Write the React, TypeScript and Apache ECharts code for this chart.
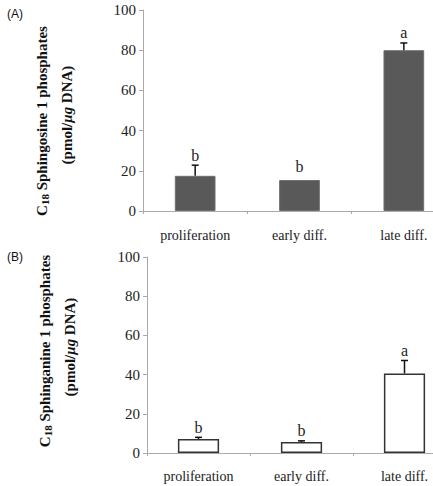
import React, { useEffect, useRef } from "react";
import * as echarts from "echarts";

const categories = ["proliferation", "early diff.", "late diff."];
const yTicks = [0, 20, 40, 60, 80, 100];

// Panel A: C18 sphingosine 1 phosphates
const s1pMean = [17.5, 15.4, 80.0];
const s1pSd = [5.3, 0, 3.6];
const s1pLetters = ["b", "b", "a"];

// Panel B: C18 sphinganine 1 phosphates
const sa1pMean = [7.1, 5.6, 40.6];
const sa1pSd = [0.9, 0.6, 6.6];
const sa1pLetters = ["b", "b", "a"];

const SERIF = '"Liberation Serif", "Times New Roman", serif';
const SANS = '"Liberation Sans", Arial, sans-serif';

function errSeries(idx: number, means: number[], sds: number[], letters: string[]) {
  return {
    type: "custom",
    xAxisIndex: idx,
    yAxisIndex: idx,
    z: 5,
    itemStyle: { color: "#222" },
    data: means.map((m, i) => [i, m, sds[i]]),
    renderItem: (params: any, api: any) => {
      const i = params.dataIndex;
      const x = api.value(0);
      const mean = api.value(1);
      const sd = api.value(2);
      const base = api.coord([x, mean]);
      const top = api.coord([x, mean + sd]);
      const children: any[] = [];
      if (sd > 0) {
        children.push({
          type: "line",
          shape: { x1: base[0], y1: base[1], x2: top[0], y2: top[1] },
          style: { stroke: "#111", lineWidth: 1.5 },
        });
        children.push({
          type: "line",
          shape: { x1: top[0] - 3.5, y1: top[1], x2: top[0] + 3.5, y2: top[1] },
          style: { stroke: "#111", lineWidth: 1.5 },
        });
      }
      children.push({
        type: "text",
        style: {
          text: letters[i],
          x: top[0],
          y: top[1] - (sd > 0 ? 10 : 14),
          align: "center",
          verticalAlign: "middle",
          fontSize: 16,
          fontFamily: SERIF,
          fill: "#222",
        },
      });
      return { type: "group", children };
    },
  };
}

function yLabel(x1: number, x2: number, cy1: number, cy2: number, name: string) {
  return [
    {
      type: "text",
      x: x1,
      y: cy1,
      rotation: Math.PI / 2,
      style: {
        text: "{b|C}{sub|18}{b| " + name + " 1 phosphates}",
        align: "center",
        verticalAlign: "middle",
        fill: "#111",
        rich: {
          b: { fontSize: 15, fontWeight: "bold", fontFamily: SERIF, fill: "#111", lineHeight: 17 },
          sub: { fontSize: 11, fontWeight: "bold", fontFamily: SERIF, fill: "#111", lineHeight: 17, verticalAlign: "bottom" },
        },
      },
    },
    {
      type: "text",
      x: x2,
      y: cy2,
      rotation: Math.PI / 2,
      style: {
        text: "{b|(pmol/}{bi|\u03bcg}{b| DNA)}",
        align: "center",
        verticalAlign: "middle",
        fill: "#111",
        rich: {
          b: { fontSize: 15, fontWeight: "bold", fontFamily: SERIF, fill: "#111" },
          bi: { fontSize: 15, fontWeight: "bold", fontStyle: "italic", fontFamily: SERIF, fill: "#111" },
        },
      },
    },
  ];
}

const CHART_W = 464;

export default function App() {
  const ref = useRef<HTMLDivElement>(null);
  useEffect(() => {
    if (!ref.current) return;
    const chart = echarts.init(ref.current, undefined, { renderer: "svg" });
    const xAxisBase = (gridIndex: number, margin: number) => ({
      type: "category",
      gridIndex,
      data: categories,
      boundaryGap: true,
      axisLine: { show: true, lineStyle: { color: "#aaa", width: 1 } },
      axisTick: { show: true, length: 3, lineStyle: { color: "#aaa" } },
      axisLabel: { fontSize: 14, fontFamily: SERIF, color: "#222", margin },
      splitLine: { show: false },
    });
    const yAxisBase = (gridIndex: number) => ({
      type: "value",
      gridIndex,
      min: yTicks[0],
      max: yTicks[yTicks.length - 1],
      interval: 20,
      axisLine: { show: true, lineStyle: { color: "#aaa", width: 1 } },
      axisTick: { show: true, length: 4, lineStyle: { color: "#aaa" } },
      axisLabel: { fontSize: 15, fontFamily: SERIF, color: "#222", margin: 7 },
      splitLine: { show: false },
    });
    chart.setOption({
      animation: false,
      backgroundColor: "#fff",
      grid: [
        { left: 143, top: 10, height: 201, width: 313 },
        { left: 147, top: 257, height: 196, width: 309 },
      ],
      xAxis: [xAxisBase(0, 17), xAxisBase(1, 16)],
      yAxis: [yAxisBase(0), yAxisBase(1)],
      series: [
        {
          type: "bar",
          xAxisIndex: 0,
          yAxisIndex: 0,
          data: s1pMean,
          barWidth: "39%",
          itemStyle: { color: "#595959", borderColor: "#6e6e6e", borderWidth: 1 },
        },
        {
          type: "bar",
          xAxisIndex: 1,
          yAxisIndex: 1,
          data: sa1pMean,
          barWidth: "40%",
          itemStyle: { color: "#ffffff", borderColor: "#333", borderWidth: 1.5 },
        },
        errSeries(0, s1pMean, s1pSd, s1pLetters),
        errSeries(1, sa1pMean, sa1pSd, sa1pLetters),
      ],
      graphic: [
        { type: "text", x: 7, y: 8, style: { text: "(A)", fontSize: 12, fontFamily: SANS, fill: "#111" } },
        { type: "text", x: 7, y: 251, style: { text: "(B)", fontSize: 12, fontFamily: SANS, fill: "#111" } },
        ...yLabel(42, 67, 121, 115, "Sphingosine"),
        ...yLabel(45, 70, 351, 347, "Sphinganine"),
      ],
    });
    return () => chart.dispose();
  }, []);
  return (
    <div
      style={{ position: "fixed", left: 0, top: 0, width: 433, height: 486, overflow: "hidden", background: "#fff" }}
    >
      <div ref={ref} style={{ width: CHART_W, height: 486 }} />
    </div>
  );
}
